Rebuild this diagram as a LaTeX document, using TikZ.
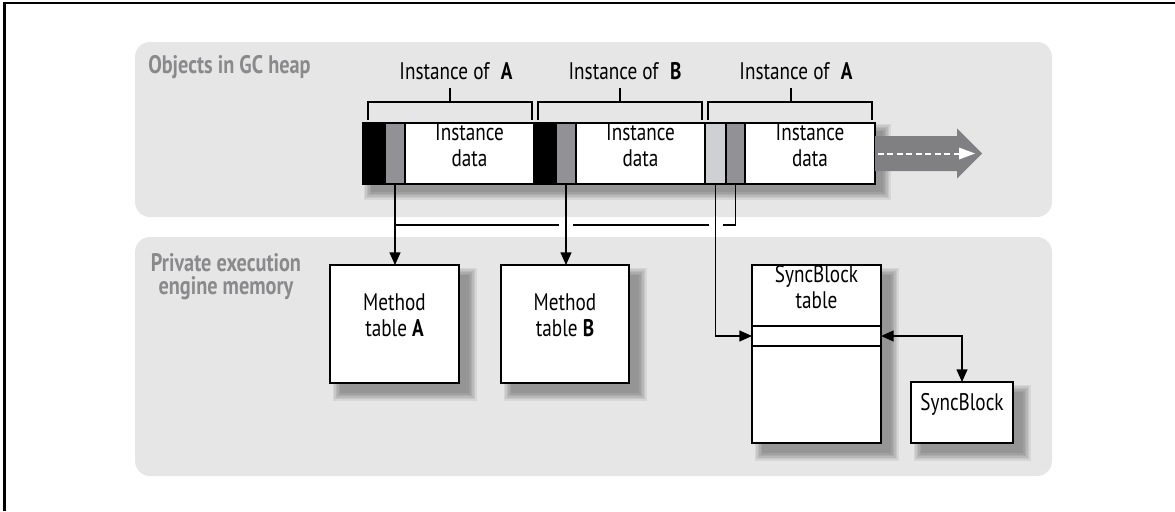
\documentclass[tikz,border=0pt]{standalone}
\usepackage{fontspec}
\setmainfont{PT Sans}[FakeStretch=0.8]
\usetikzlibrary{arrows.meta,calc,fit}

\definecolor{panelgray}{RGB}{230,230,230}
\definecolor{headgray}{RGB}{138,138,140}
\definecolor{midgray}{RGB}{146,146,150}
\definecolor{lightseg}{RGB}{207,208,211}
\definecolor{flowgray}{RGB}{128,128,131}

\pgfdeclarelayer{panels}
\pgfdeclarelayer{shades}
\pgfsetlayers{panels,shades,main}

% soft drop shadow behind a named node: [offset]{node}
\newcommand\softshadow[2][10]{%
  \begin{pgfonlayer}{shades}
    \foreach \k in {0,...,5}{%
      \fill[black,opacity=0.065]
        ($(#2.north west)+(#1-1.5*\k,#1-1.5*\k)$) rectangle
        ($(#2.south east)+(#1+1.5*\k,#1+1.5*\k)$);
    }
  \end{pgfonlayer}}

\tikzset{
  seg/.style={draw=black, line width=0.9pt, inner sep=0pt, outer sep=0pt, align=center},
  box/.style={draw=black, fill=white, line width=1.3pt, inner sep=0pt, outer sep=0pt, align=center},
  conn/.style={line width=1.1pt, draw=black},
  arrowend/.style={-{Triangle[length=9.5pt,width=8.2pt]}},
  twoway/.style={{Triangle[length=9.5pt,width=8.2pt]}-{Triangle[length=9.5pt,width=8.2pt]}},
  heading/.style={text=headgray, inner sep=0pt, font=\fontsize{19}{17.5}\selectfont\bfseries},
  bracketline/.style={line width=1.1pt},
  instlabel/.style={anchor=base, inner sep=0pt},
}

\begin{document}
\begin{tikzpicture}[x=0.75pt, y=-0.75pt, font=\fontsize{18}{19.5}\selectfont]
\useasboundingbox (0,0) rectangle (1175,511);

% page frame (left and top rules)
\draw[line width=1.9pt] (4.5,511) -- (4.5,3) -- (1175,3);

% the two memory regions
\begin{pgfonlayer}{panels}
  \fill[panelgray, rounded corners=11.25pt] (135,42) rectangle (1052,217);
  \fill[panelgray, rounded corners=11.25pt] (135,237) rectangle (1052,476);
\end{pgfonlayer}

\node[heading, anchor=base west] (gcheap) at (148,73) {Objects in GC heap};
\node[heading, anchor=north, align=center] (eemem) at (226,253) {Private execution\\engine memory};

% objects laid out in the heap
\node[seg, fill=black,    fit={(363,123)(385,184)}] (hA) {};
\node[seg, fill=midgray,  fit={(385,123)(405,184)}] (gA) {};
\node[seg, fill=white,    fit={(405,123)(534,184)}] (dA) {Instance\\data};
\node[seg, fill=black,    fit={(534,123)(556,184)}] (hB) {};
\node[seg, fill=midgray,  fit={(556,123)(576,184)}] (gB) {};
\node[seg, fill=white,    fit={(576,123)(705,184)}] (dB) {Instance\\data};
\node[seg, fill=lightseg, fit={(705,123)(726,184)}] (sC) {};
\node[seg, fill=midgray,  fit={(726,123)(745,184)}] (gC) {};
\node[seg, fill=white,    fit={(745,123)(875,184)}] (dC) {Instance\\data};
\node[draw=black, line width=1.3pt, inner sep=0pt, outer sep=0pt, fit={(363,123)(875,184)}] (strip) {};
\softshadow[8]{strip}

% allocation direction
\fill[flowgray] (875,136) -- (957,136) -- (957,128.5) -- (982,153.5) -- (957,178.5) -- (957,171) -- (875,171) -- cycle;
\draw[white, line width=1.5pt, dash pattern=on 4.5pt off 2.6pt] (878,153.5) -- (961,153.5);
\fill[white] (959,147.5) -- (975,153.5) -- (959,159.5) -- cycle;

% brackets naming each object
\draw[bracketline] (368,120) |- (532,102) -- (532,120);
\draw[bracketline] (450,102) -- (450,88);
\draw[bracketline] (538,120) |- (702,102) -- (702,120);
\draw[bracketline] (620,102) -- (620,88);
\draw[bracketline] (708,120) |- (872,102) -- (872,120);
\draw[bracketline] (791,102) -- (791,88);
\node[instlabel] (labA) at (456,79) {Instance of\hspace{0.45em}\textbf{A}};
\node[instlabel] (labB) at (625,79) {Instance of\hspace{0.45em}\textbf{B}};
\node[instlabel] (labC) at (796,79) {Instance of\hspace{0.45em}\textbf{A}};

% execution engine structures
\node[box, fit={(330,265)(459,383)}] (mtA) {Method\\table \textbf{A}};
\node[box, fit={(501,265)(629,383)}] (mtB) {Method\\table \textbf{B}};
\node[box, fit={(752,265)(881,443)}] (sbt) {};
\node[box, fit={(752,265)(881,326)}] (sbhead) {SyncBlock\\table};
\node[box, fit={(752,326)(881,346)}] (slot) {};
\node[box, fit={(911,382)(1013,443)}] (sb) {SyncBlock};
\softshadow{mtA}
\softshadow{mtB}
\softshadow{sbt}
\softshadow{sb}

% pointers
\coordinate (busA) at (gA.south |- 0,225);
\draw[conn] (gC.south) |- (busA);
\fill[white] ($(gB.south |- busA)+(-7,-3)$) rectangle ($(gB.south |- busA)+(7,3)$);
\fill[white] ($(sC.south |- busA)+(-7,-3)$) rectangle ($(sC.south |- busA)+(7,3)$);
\draw[conn, arrowend] (gA.south) -- (gA.south |- mtA.north);
\draw[conn, arrowend] (gB.south) -- (gB.south |- mtB.north);
\draw[conn, arrowend] (sC.south) |- (slot.west);
\draw[conn, twoway] (slot.east) -| (sb.north);
\end{tikzpicture}
\end{document}
